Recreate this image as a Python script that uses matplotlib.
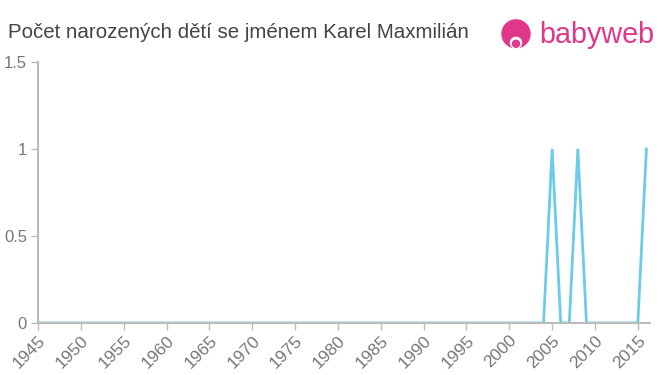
import numpy as np
import matplotlib.pyplot as plt
from matplotlib.patches import Circle

# Počet narozených dětí se jménem Karel Maxmilián
years = list(range(1945, 2017))
births = [0] * len(years)
peak_years = [2005, 2008, 2016]
peak_values = [1, 1, 1]
for y, v in zip(peak_years, peak_values):
    births[years.index(y)] = v

x_ticks = list(range(1945, 2016, 5))
y_ticks = [0, 0.5, 1, 1.5]
y_tick_labels = ["0", "0.5", "1", "1.5"]

plt.rcParams['font.family'] = ['Liberation Sans', 'DejaVu Sans']

fig = plt.figure(figsize=(6.6, 3.75), dpi=100)
ax = fig.add_axes([0.0576, 0.1387, 0.927, 0.696])

ax.plot(years, births, color="#6dcbea", lw=2, solid_joinstyle="miter")

ax.set_xlim(1945, 2016.4)
ax.set_ylim(0, 1.5)
ax.set_xticks(x_ticks)
ax.set_xticklabels([str(t) for t in x_ticks], rotation=45, ha="right",
                   rotation_mode="anchor", fontsize=12.5, color="#777777")
ax.set_yticks(y_ticks)
ax.set_yticklabels(y_tick_labels, fontsize=12, color="#777777")
ax.tick_params(axis="both", length=5, width=1, color="#bbbbbb", pad=3)
ax.tick_params(axis="x", pad=2)

for s in ["top", "right"]:
    ax.spines[s].set_visible(False)
for s in ["left", "bottom"]:
    ax.spines[s].set_color("#bbbbbb")
    ax.spines[s].set_linewidth(1.5)

fig.text(8 / 660, 1 - 32 / 375, "Počet narozených dětí se jménem Karel Maxmilián",
         fontsize=14.8, color="#444444", va="center", ha="left")

# logo
pink = "#e0378a"
lax = fig.add_axes([0.75, 0.87, 0.25, 0.13])
lax.set_xlim(0, 165)
lax.set_ylim(0, 49)
lax.axis("off")
lax.add_patch(Circle((21, 15), 14, color=pink, clip_on=False))
lax.add_patch(Circle((21, 6), 5.5, color="white", clip_on=False))
lax.add_patch(Circle((21, 5), 3.5, color=pink, clip_on=False))
lax.text(44, 14, "babyweb", fontsize=20.7, color=pink, va="center", ha="left",
         clip_on=False)

fig.savefig("out.png", dpi=100)
